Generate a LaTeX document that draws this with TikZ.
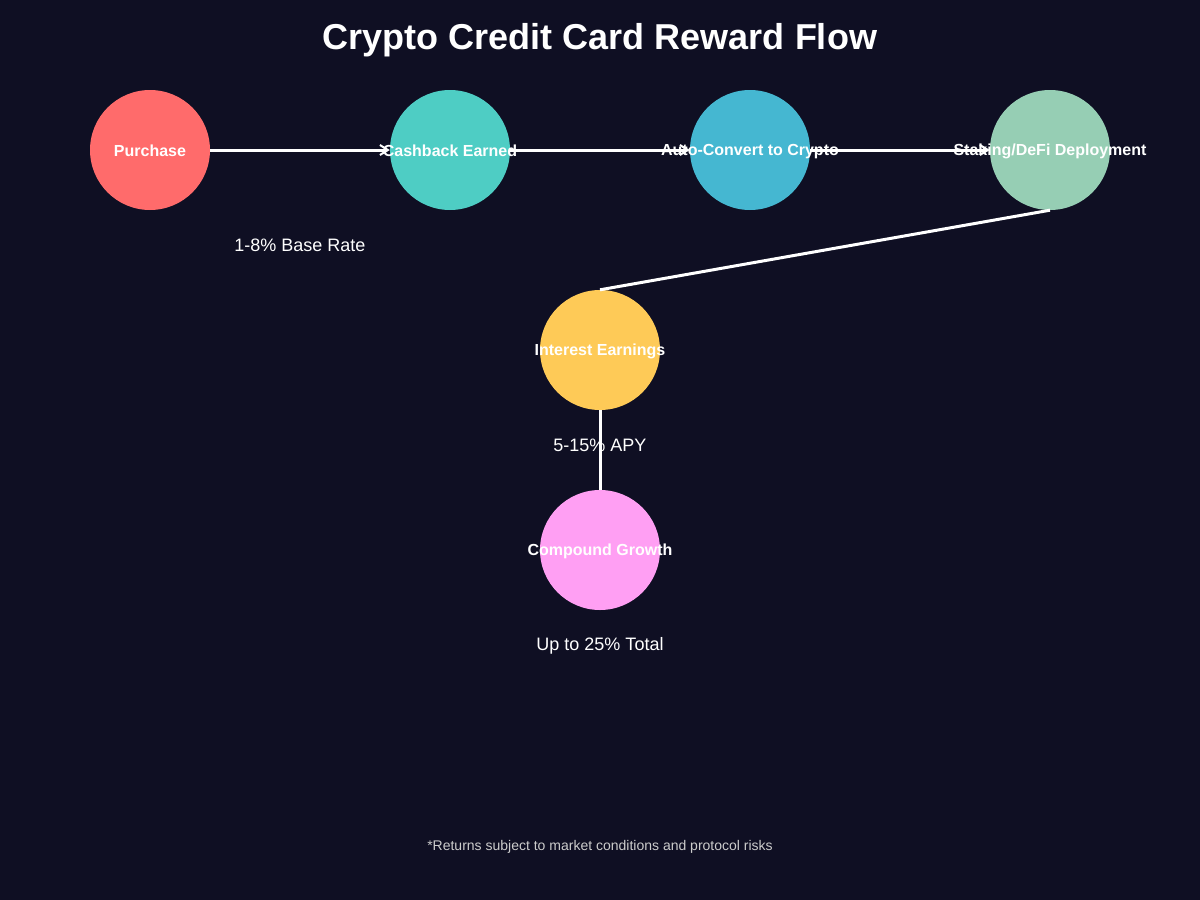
\documentclass[tikz,border=0pt]{standalone}
\usepackage{fontspec}
\setmainfont{Liberation Sans}
\usetikzlibrary{arrows.meta}
\definecolor{bg}{HTML}{0F0F23}
\definecolor{cPurchase}{HTML}{FF6B6B}
\definecolor{cCash}{HTML}{4ECDC4}
\definecolor{cAuto}{HTML}{45B7D1}
\definecolor{cStake}{HTML}{96CEB4}
\definecolor{cInterest}{HTML}{FECA57}
\definecolor{cCompound}{HTML}{FF9FF3}
\definecolor{foot}{HTML}{CCCCCC}
\tikzset{
  dot/.style={circle, minimum size=120pt, inner sep=0pt, draw=none},
  circlabel/.style={text=white, font=\fontsize{16}{19}\selectfont\bfseries, inner sep=0pt},
  note/.style={text=white, font=\fontsize{18}{21}\selectfont, inner sep=0pt},
  flow/.style={draw=white, line width=3pt, -{Straight Barb[length=8pt,width=10pt,line width=2pt]}},
  link/.style={draw=white, line width=3pt},
}
\begin{document}
\begin{tikzpicture}[x=1pt,y=-1pt]
\fill[bg] (0,0) rectangle (1200,900);
\useasboundingbox (0,0) rectangle (1200,900);
\node[text=white, font=\fontsize{36}{43}\selectfont\bfseries] (title) at (600,40.5) {Crypto Credit Card Reward Flow};
\node[dot, fill=cPurchase] (p) at (150,150) {};
\node[dot, fill=cCash] (c) at (450,150) {};
\node[dot, fill=cAuto] (a) at (750,150) {};
\node[dot, fill=cStake] (s) at (1050,150) {};
\node[dot, fill=cInterest] (i) at (600,350) {};
\node[dot, fill=cCompound] (g) at (600,550) {};
\draw[flow] (p.east) -- (c.west);
\draw[flow] (c.east) -- (a.west);
\draw[flow] (a.east) -- (s.west);
\draw[link] (s.south) -- (i.north);
\draw[link] (i.south) -- (g.north);
\node[circlabel] (pl) at (150,151.2) {Purchase};
\node[circlabel] (cl) at (450,151.2) {Cashback Earned};
\node[circlabel] (al) at (750,151.2) {Auto-Convert to Crypto};
\node[circlabel] (sl) at (1050,151.2) {Staking/DeFi Deployment};
\node[circlabel] (il) at (600,351.2) {Interest Earnings};
\node[circlabel] (gl) at (600,551.2) {Compound Growth};
\node[note] (n1) at (300,245) {1-8\% Base Rate};
\node[note] (n2) at (600,445) {5-15\% APY};
\node[note] (n3) at (600,645.5) {Up to 25\% Total};
\node[text=foot, font=\fontsize{14}{17}\selectfont, inner sep=0pt] (footer) at (600,846.5) {*Returns subject to market conditions and protocol risks};
\end{tikzpicture}
\end{document}
